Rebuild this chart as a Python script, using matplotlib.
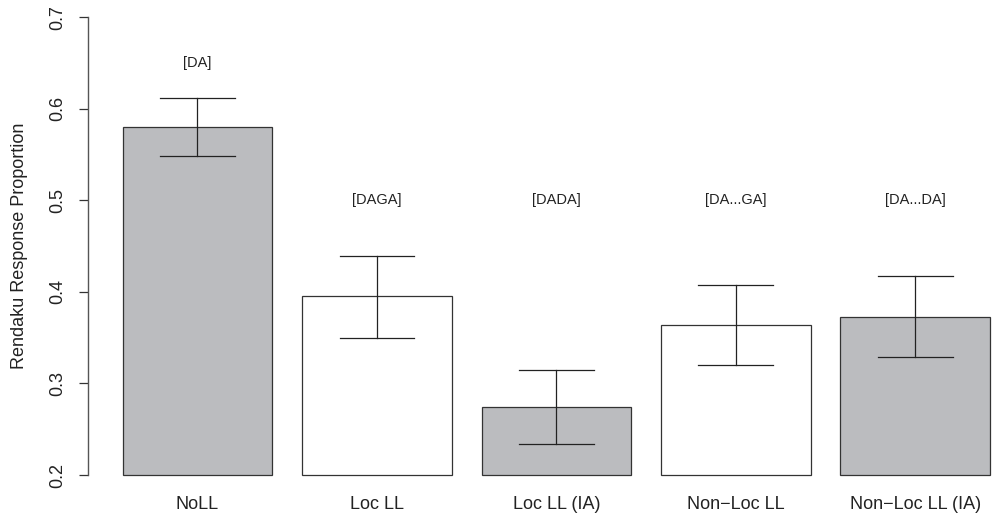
import matplotlib

matplotlib.use("Agg")
import matplotlib.pyplot as plt
import numpy as np

plt.rcParams["font.family"] = ["Liberation Sans", "DejaVu Sans"]

# data
conditions = ["NoLL", "Loc LL", "Loc LL (IA)", "Non\u2212Loc LL", "Non\u2212Loc LL (IA)"]
proportions = [0.580, 0.395, 0.274, 0.364, 0.373]
err_upper = [0.612, 0.439, 0.315, 0.408, 0.417]
err_lower = [0.548, 0.350, 0.234, 0.320, 0.329]
patterns = ["[DA]", "[DAGA]", "[DADA]", "[DA...GA]", "[DA...DA]"]
pattern_y = [0.65, 0.50, 0.50, 0.50, 0.50]
bar_fill = ["#BBBCBF", "white", "#BBBCBF", "white", "#BBBCBF"]

BASE = 0.2
W, H = 997, 515

fig = plt.figure(figsize=(W / 100, H / 100), dpi=100)
# axes box in pixels: x 88..1024.7 (R barplot region runs past the crop), y 17.3..475
left, right, top, bottom = 88, 1024.7, 17.3, 475
ax = fig.add_axes([left / W, (H - bottom) / H, (right - left) / W, (bottom - top) / H])

centers = 0.7 + 1.2 * np.arange(len(conditions))
heights = np.array(proportions) - BASE
bars = ax.bar(centers, heights, width=1.0, bottom=BASE, color=bar_fill,
              edgecolor="#333333", linewidth=0.9, zorder=2)
for b in bars:
    b.set_clip_on(False)

for x, lo, hi in zip(centers, err_lower, err_upper):
    ax.plot([x, x], [lo, hi], color="#222222", linewidth=0.9, zorder=3)
    ax.plot([x - 0.25, x + 0.25], [hi, hi], color="#222222", linewidth=0.9, zorder=3)
    ax.plot([x - 0.25, x + 0.25], [lo, lo], color="#222222", linewidth=0.9, zorder=3)

for x, label, y in zip(centers, patterns, pattern_y):
    ax.text(x, y, label, ha="center", va="center", fontsize=10.5, color="#222222")

ax.set_xlim(-0.032, 6.232)
ax.set_ylim(0.2, 0.7)

for side in ["top", "right", "bottom"]:
    ax.spines[side].set_visible(False)
ax.spines["left"].set_color("#555555")
ax.spines["left"].set_linewidth(1.0)

ax.set_yticks([0.2, 0.3, 0.4, 0.5, 0.6, 0.7])
ax.set_yticklabels(["0.2", "0.3", "0.4", "0.5", "0.6", "0.7"], rotation=90,
                   va="center", fontsize=13, color="#222222")
ax.tick_params(axis="y", length=6.5, width=0.9, color="#333333", pad=9)

ax.set_xticks(centers)
ax.set_xticklabels(conditions, fontsize=13, color="#222222")
ax.tick_params(axis="x", length=0, pad=15)

ax.text((20 - left) / (right - left), 0.5, "Rendaku Response Proportion",
        transform=ax.transAxes, rotation=90, ha="center", va="center",
        fontsize=13, color="#222222")

fig.savefig("out.png", dpi=100)
